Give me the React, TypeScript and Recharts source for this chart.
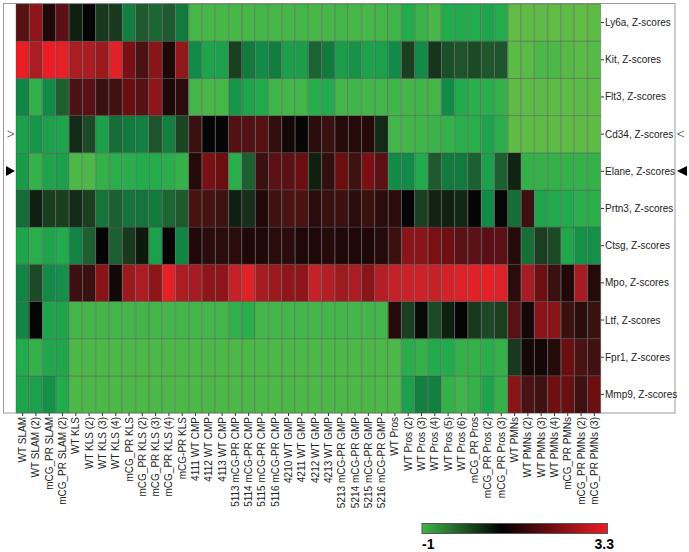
import { BarChart, Bar, XAxis, YAxis, Cell } from 'recharts'

// sample columns, left to right
const samples = [
  'WT SLAM', 'WT SLAM (2)', 'mCG_PR SLAM', 'mCG_PR SLAM (2)',
  'WT KLS', 'WT KLS (2)', 'WT KLS (3)', 'WT KLS (4)',
  'mCG_PR KLS', 'mCG_PR KLS (2)', 'mCG_PR KLS (3)', 'mCG_PR KLS (4)', 'mCG-PR KLS',
  '4111 WT CMP', '4112 WT CMP', '4113 WT CMP',
  '5113 mCG-PR CMP', '5114 mCG-PR CMP', '5115 mCG-PR CMP', '5116 mCG-PR CMP',
  '4210 WT GMP', '4211 WT GMP', '4212 WT GMP', '4213 WT GMP',
  '5213 mCG-PR GMP', '5214 mCG-PR GMP', '5215 mCG-PR GMP', '5216 mCG-PR GMP',
  'WT Pros', 'WT Pros (2)', 'WT Pros (3)', 'WT Pros (4)', 'WT Pros (5)', 'WT Pros (6)',
  'mCG_PR Pros', 'mCG_PR Pros (2)', 'mCG_PR Pros (3)',
  'WT PMNs', 'WT PMNs (2)', 'WT PMNs (3)', 'WT PMNs (4)',
  'mCG_PR PMNs', 'mCG_PR PMNs (2)', 'mCG_PR PMNs (3)',
]

// gene rows, top to bottom
const genes = ['Ly6a', 'Kit', 'Flt3', 'Cd34', 'Elane', 'Prtn3', 'Ctsg', 'Mpo', 'Ltf', 'Fpr1', 'Mmp9']

// z-scores per gene, one per sample
const ly6a = [
  1.45, 1.95, 0.95, 1.5, 0.65, 0.85, 0.35, 0.35, -0.25, 0.05, -0.05, 0.05, -0.2, -0.88, -0.88, -0.88,
  -0.88, -0.88, -0.86, -0.88, -0.88, -0.86, -0.88, -0.88, -0.86, -0.88, -0.88, -0.86, -0.85, -0.72, -0.82, -0.88,
  -0.72, -0.7, -0.72, -0.62, -0.72, -0.97, -0.97, -0.96, -0.97, -0.96, -0.97, -0.96,
]
const kit = [
  3.2, 2.4, 3.3, 3.1, 2.4, 2.4, 2.1, 3.0, 1.75, 1.3, 1.9, 0.95, 2.0, -0.35, -0.62, -0.55,
  0.3, -0.2, -0.35, -0.22, -0.55, -0.52, -0.02, -0.2, -0.52, -0.42, -0.58, -0.55, -0.35, 0.3, -0.35, 0.4,
  0.15, 0.1, 0.2, 0.08, 0.1, -0.95, -0.95, -0.9, -0.9, -0.93, -0.95, -0.93,
]
const flt3 = [
  -0.3, -0.78, -0.35, 0.0, 1.3, 1.5, 1.15, 1.2, 1.6, 1.45, 1.95, 0.95, 1.05, -0.86, -0.88, -0.88,
  -0.45, -0.6, -0.7, -0.85, -0.86, -0.86, -0.74, -0.7, -0.86, -0.85, -0.86, -0.86, -0.85, -0.86, -0.85, -0.86,
  -0.35, -0.7, -0.75, -0.75, -0.8, -0.96, -0.96, -0.95, -0.96, -0.96, -0.95, -0.96,
]
const cd34 = [
  -0.55, -0.45, -0.55, -0.6, 0.5, 0.2, -0.55, -0.1, -0.2, -0.25, 0.1, -0.25, 0.25, 1.15, 0.85, 0.85,
  1.4, 1.4, 1.45, 1.1, 0.9, 0.85, 1.05, 1.15, 1.0, 1.0, 1.0, 0.5, -0.86, -0.86, -0.85, -0.82,
  -0.8, -0.75, -0.75, -0.6, -0.75, -0.96, -0.96, -0.96, -0.96, -0.96, -0.96, -0.96,
]
const elane = [
  -0.5, -0.8, -0.6, -0.55, -0.9, -0.9, -0.8, -0.75, -0.75, -0.72, -0.72, -0.75, -0.8, 1.0, 1.75, 1.6,
  -0.75, 0.0, 1.15, 1.5, 1.5, 1.6, 0.65, 1.1, 1.6, 1.2, 1.75, 1.5, -0.35, -0.35, -0.7, 0.05,
  -0.2, -0.2, 0.0, -0.55, 0.0, 0.6, -0.8, -0.8, -0.8, -0.8, -0.8, -0.8,
]
const prtn3 = [
  -0.1, 0.65, 0.3, 0.3, 0.5, 0.3, -0.15, 0.0, -0.15, -0.15, -0.2, -0.05, 0.05, 1.25, 1.25, 1.2,
  0.65, 0.45, 0.95, 1.2, 1.3, 1.3, 1.05, 1.15, 1.15, 1.05, 1.15, 1.05, 1.05, 0.85, 0.3, 0.6,
  0.65, 0.55, 0.85, -0.35, 0.85, -0.1, 1.15, -0.6, -0.7, -0.7, -0.75, -0.75,
]
const ctsg = [
  -0.6, -0.75, -0.6, -0.7, -0.3, 0.0, 0.85, 0.0, 0.35, 0.7, -0.55, 0.85, -0.3, 0.95, 1.05, 1.05,
  1.05, 0.95, 0.95, 1.05, 1.05, 0.95, 0.95, 1.0, 0.95, 0.95, 0.95, 1.0, 1.15, 1.9, 1.9, 1.75,
  1.65, 1.5, 1.5, 1.5, 1.5, 1.0, -0.1, 0.3, 0.2, -0.65, -0.4, -0.4,
]
const mpo = [
  -0.3, 0.2, -0.35, -0.4, 1.15, 1.15, 1.9, 0.9, 2.1, 2.4, 1.95, 3.1, 2.4, 2.3, 1.95, 1.95,
  2.7, 3.0, 2.3, 2.1, 1.95, 1.95, 2.7, 2.5, 2.15, 2.4, 1.9, 2.5, 2.7, 2.75, 2.8, 2.7,
  2.85, 2.95, 3.0, 3.1, 2.95, 1.05, 2.3, 1.65, 1.15, 0.95, 2.3, 1.0,
]
const ltf = [
  -0.3, 0.85, -0.6, -0.6, -0.86, -0.86, -0.86, -0.86, -0.86, -0.86, -0.86, -0.86, -0.86, -0.86, -0.86, -0.86,
  -0.78, -0.75, -0.86, -0.86, -0.86, -0.86, -0.86, -0.86, -0.86, -0.86, -0.86, -0.86, 1.0, 0.3, 0.8, 0.2,
  0.65, 0.85, 0.35, 0.2, 0.3, 1.5, 0.9, 1.9, 1.9, 1.15, 1.05, 1.15,
]
const fpr1 = [
  -0.7, -0.8, -0.65, -0.65, -0.9, -0.9, -0.9, -0.9, -0.9, -0.9, -0.9, -0.9, -0.9, -0.9, -0.9, -0.9,
  -0.9, -0.9, -0.9, -0.9, -0.9, -0.9, -0.9, -0.9, -0.9, -0.9, -0.9, -0.9, -0.9, -0.75, -0.8, -0.7,
  -0.7, -0.8, -0.8, -0.75, -0.8, 0.35, 0.9, 0.9, 1.0, 1.6, 1.3, 1.2,
]
const mmp9 = [
  -0.6, -0.55, -0.4, -0.7, -0.9, -0.9, -0.9, -0.9, -0.9, -0.9, -0.9, -0.9, -0.9, -0.9, -0.9, -0.9,
  -0.9, -0.9, -0.9, -0.9, -0.9, -0.9, -0.9, -0.9, -0.9, -0.9, -0.9, -0.9, -0.9, -0.55, -0.25, -0.25,
  -0.8, -0.85, -0.8, -0.6, -0.8, 1.9, 1.3, 1.2, 1.65, 1.6, 1.2, 1.6,
]

const zScores = [ly6a, kit, flt3, cd34, elane, prtn3, ctsg, mpo, ltf, fpr1, mmp9]
const scaleMin = -1
const scaleMax = 3.3

// green -> black -> red colour ramp
const colorStops: [number, string][] = [
  [-1.0, '#6abd45'],
  [-0.9, '#4cb848'],
  [-0.72, '#22ac4c'],
  [-0.55, '#1ca04b'],
  [-0.35, '#128a48'],
  [-0.2, '#137a3e'],
  [0.05, '#1e5a2e'],
  [0.3, '#1a3e20'],
  [0.5, '#142a18'],
  [0.65, '#0f1f10'],
  [0.85, '#050505'],
  [0.95, '#200808'],
  [1.05, '#2a0c0c'],
  [1.15, '#3a1010'],
  [1.3, '#4a1212'],
  [1.5, '#5a1014'],
  [1.6, '#6a0e10'],
  [1.75, '#7a1014'],
  [1.9, '#8a1519'],
  [2.1, '#9a1a1e'],
  [2.3, '#a51c22'],
  [2.45, '#b01e24'],
  [2.7, '#c42228'],
  [3.0, '#e02228'],
  [3.3, '#ee1c24'],
]

function hexRgb(h: string) {
  return [1, 3, 5].map((i) => parseInt(h.slice(i, i + 2), 16))
}

function zColor(v: number) {
  if (v <= colorStops[0][0]) return colorStops[0][1]
  for (let i = 1; i < colorStops.length; i++) {
    const [v1, c1] = colorStops[i]
    if (v <= v1) {
      const [v0, c0] = colorStops[i - 1]
      const t = (v - v0) / (v1 - v0)
      const a = hexRgb(c0)
      const b = hexRgb(c1)
      const m = a.map((x, k) => Math.round(x + (b[k] - x) * t))
      return `rgb(${m[0]},${m[1]},${m[2]})`
    }
  }
  return colorStops[colorStops.length - 1][1]
}

// every cell is one unit of a stacked bar; colour comes from the z-score
const data = samples.map((sample) => {
  const row: Record<string, string | number> = { sample }
  genes.forEach((g) => {
    row[g] = 1
  })
  return row
})

const stackOrder = [...genes].reverse()
const geneTicks = genes.map((_, i) => i + 0.5)

const font = '"Liberation Sans", Arial, sans-serif'

function SampleTick({ x, y, payload }: any) {
  return (
    <g transform={`translate(${x},${y})`}>
      <line x1={0} y1={0} x2={0} y2={3} stroke="#333" />
      <text
        transform="rotate(-90)"
        x={-4}
        y={0}
        dy="0.35em"
        textAnchor="end"
        fontSize={10}
        fontFamily={font}
        fill="#222"
      >
        {payload.value}
      </text>
    </g>
  )
}

function GeneTick({ x, y, payload }: any) {
  const gene = genes[genes.length - 1 - Math.floor(payload.value)]
  return (
    <g transform={`translate(${x},${y})`}>
      <line x1={0} y1={0} x2={3} y2={0} stroke="#333" />
      <text x={4} y={0} dy="0.35em" fontSize={10} fontFamily={font} fill="#222">
        {gene}, Z-scores
      </text>
    </g>
  )
}

export default function App() {
  return (
    <div style={{ position: 'absolute', left: 0, top: 0, width: 689, height: 552, background: '#fff' }}>
      <svg width={689} height={552} style={{ position: 'absolute', left: 0, top: 0 }}>
        <rect x={3.5} y={3.5} width={671.5} height={409.5} fill="#fff" stroke="#9a9a9a" />
      </svg>
      <div style={{ position: 'absolute', left: 0, top: 0 }}>
        <BarChart
          width={689}
          height={552}
          data={data}
          margin={{ top: 4, right: 0, bottom: 0, left: 16 }}
          barCategoryGap={0}
          barGap={0}
        >
          <XAxis
            dataKey="sample"
            interval={0}
            tick={<SampleTick />}
            tickLine={false}
            axisLine={false}
            tickSize={0}
            tickMargin={0}
            height={139}
          />
          <YAxis
            orientation="right"
            type="number"
            domain={[0, genes.length]}
            ticks={geneTicks}
            interval={0}
            tick={<GeneTick />}
            tickLine={false}
            axisLine={false}
            tickSize={0}
            tickMargin={0}
            width={88}
          />
          {stackOrder.map((g) => {
            const row = zScores[genes.indexOf(g)]
            return (
              <Bar
                key={g}
                dataKey={g}
                stackId="z"
                isAnimationActive={false}
                stroke="#4a4a4a"
                strokeOpacity={0.4}
                strokeWidth={1}
              >
                {samples.map((s, i) => (
                  <Cell key={s} fill={zColor(row[i])} />
                ))}
              </Bar>
            )
          })}
        </BarChart>
      </div>
      <svg width={689} height={552} style={{ position: 'absolute', left: 0, top: 0, pointerEvents: 'none' }}>
        <defs>
          <linearGradient id="zramp" x1="0" x2="1" y1="0" y2="0">
            <stop offset="0" stopColor="#3cb54a" />
            <stop offset={(0.85 - scaleMin) / (scaleMax - scaleMin)} stopColor="#000" />
            <stop offset="1" stopColor="#ee1c24" />
          </linearGradient>
        </defs>
        {/* row markers */}
        <polyline points="7.5,131 14,134 7.5,137" fill="none" stroke="#666" />
        <polygon points="6,166 15,171 6,176" fill="#000" />
        <polyline points="684,131 677.5,134 684,137" fill="none" stroke="#666" />
        <polygon points="687,166 677,171 687,176" fill="#000" />
        {/* colour scale */}
        <rect x={422} y={523.5} width={185.5} height={10} fill="url(#zramp)" stroke="#555" />
        <text x={422} y={549} fontSize={14} fontWeight="bold" fontFamily={font} fill="#000">
          {scaleMin}
        </text>
        <text x={614} y={549} fontSize={14} fontWeight="bold" fontFamily={font} fill="#000" textAnchor="end">
          {scaleMax}
        </text>
      </svg>
    </div>
  )
}
